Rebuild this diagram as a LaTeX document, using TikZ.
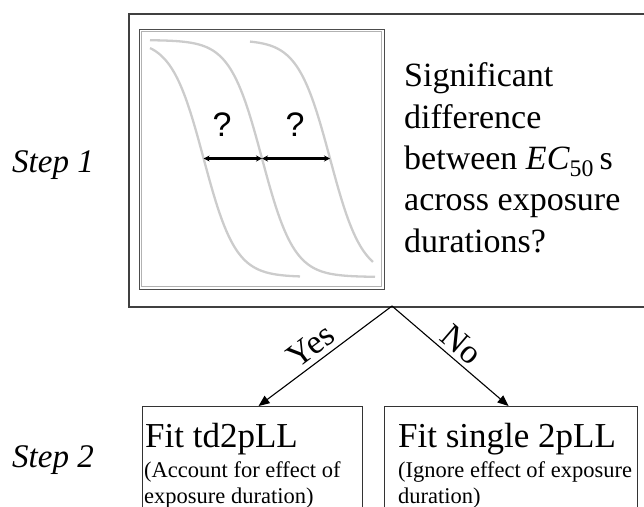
\documentclass[tikz,border=0pt]{standalone}
\usepackage{fontspec}
\setmainfont{Liberation Serif}
\newfontfamily\arialf{Liberation Sans}
\usetikzlibrary{arrows.meta}
\begin{document}
\begin{tikzpicture}[x=1pt,y=-1pt,
  frame/.style={draw=black!75, line width=1.5pt, inner sep=0pt},
  plotframe/.style={draw=black!70, line width=1pt, inner sep=0pt},
  curve/.style={draw=black!20, line width=2.3pt},
  dimarrow/.style={line width=2.4pt, {Stealth[length=6pt,width=6pt]}-{Stealth[length=6pt,width=6pt]}},
  flow/.style={line width=1.1pt, -{Triangle[length=11pt,width=9pt]}},
  boxst/.style={draw=black!80, line width=1.1pt, inner sep=0pt},
  bigtxt/.style={font=\fontsize{34}{41.3}\selectfont, inner sep=0pt},
  fittxt/.style={font=\fontsize{35}{40}\selectfont, inner sep=0pt},
  subtxt/.style={font=\fontsize{22.5}{26}\selectfont, inner sep=0pt, align=left},
  steptxt/.style={font=\itshape\fontsize{33}{40}\selectfont, inner sep=0pt},
  qmark/.style={font=\arialf\fontsize{34}{40}\selectfont, inner sep=0pt},
  lbl/.style={font=\fontsize{34}{40}\selectfont, inner sep=1pt}]
\useasboundingbox (0,0) rectangle (644,506);
\clip (0,0) rectangle (644,506);
% outer step-1 frame
\node[frame, anchor=north west, minimum width=530pt, minimum height=293pt] (outer) at (128,13) {};
% plot frame
\node[plotframe, anchor=north west, minimum width=245pt, minimum height=260pt] (plot) at (139,29) {};
\draw[draw=black!30, line width=1pt] (141.5,31.5) rectangle (381.5,286.5);
% sigmoid curves
\draw[curve] plot[domain=150:300, samples=90] (\x, {40+237/(1+exp(-(\x-203.6)/16))});
\draw[curve] plot[domain=150:375, samples=110] (\x, {40+237/(1+exp(-(\x-262)/16))});
\draw[curve] plot[domain=250:373, samples=70] (\x, {40+237/(1+exp(-(\x-330)/16))});
% EC50 distances
\coordinate (e1) at (203.6,158.5);
\coordinate (e2) at (262,158.5);
\coordinate (e3) at (330,158.5);
\draw[dimarrow] (e1) -- (e2);
\draw[dimarrow] (e2) -- (e3);
\node[qmark] (q1) at (222,125) {?};
\node[qmark] (q2) at (295,125) {?};
% question (base anchor = last line)
\node[bigtxt, anchor=base west, align=left] (question) at (404,252)
  {Significant\\difference\\between \textit{EC}\textsubscript{50}\,s\\across exposure\\durations?};
% step labels
\node[steptxt, anchor=base west] (step1) at (12,172) {Step 1};
\node[steptxt, anchor=base west] (step2) at (12,467) {Step 2};
% step-2 boxes
\node[boxst, anchor=north west, minimum width=220pt, minimum height=130pt] (fitA) at (142,406) {};
\node[boxst, anchor=north west, minimum width=253pt, minimum height=130pt] (fitB) at (384,406) {};
\node[fittxt, anchor=base west] (fitAt) at (145,447) {Fit td2pLL};
\node[subtxt, anchor=base west] (fitAs) at (144,503) {(Account for effect of\\exposure duration)};
\node[fittxt, anchor=base west] (fitBt) at (398,447) {Fit single 2pLL};
\node[subtxt, anchor=base west] (fitBs) at (398,503) {(Ignore effect of exposure\\duration)};
% decision arrows
\coordinate (split) at (392,306);
\draw[flow] (split) -- ([xshift=6pt]fitA.north) node[lbl, pos=0.53, above=4pt, sloped] {Yes};
\draw[flow] (split) -- ([xshift=-2.5pt]fitB.north) node[lbl, pos=0.51, above=3pt, sloped] {No};
\end{tikzpicture}
\end{document}
